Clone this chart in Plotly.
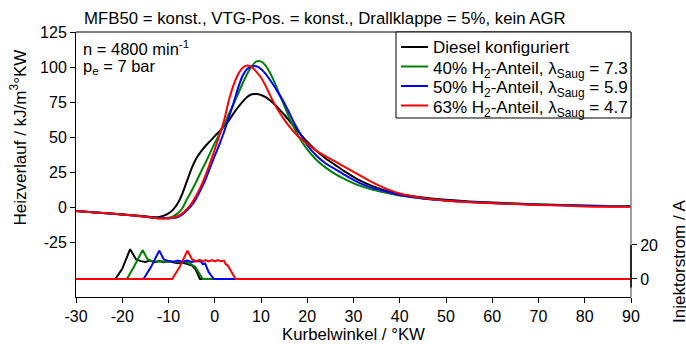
import plotly.graph_objects as go

# Kurbelwinkel-Stützstellen und Heizverläufe (kJ/m³°KW)
kw_diesel = [-30, -25, -20, -15, -13, -12, -11, -10, -9, -8, -7, -6, -5, -4, -3, -2, -1, 0, 1, 2, 3, 4, 5, 6, 7, 8,
             9, 10, 11, 12, 13, 14, 15, 16, 17, 18, 20, 22, 24, 26, 28, 31, 34, 37, 40, 45, 50, 55, 60, 65, 70, 75,
             80, 85, 90]
hv_diesel = [-2.5, -3.7, -5.0, -6.3, -6.9, -6.8, -5.8, -4.2, -1.5, 3, 10, 19, 28, 35, 40, 44, 47.5, 51, 54.5, 58,
             62, 67, 71.5, 75.5, 79, 81, 81.2, 80.5, 79, 76.5, 73.5, 70, 66.5, 62.5, 58.5, 54.5, 47, 40.5, 35, 30.5,
             26, 20, 15.5, 12, 9.5, 7.2, 5.5, 4.3, 3.5, 2.8, 2.2, 1.8, 1.3, 1.1, 1.0]

kw_h2 = [-30, -25, -20, -15, -12, -11, -10, -9, -8, -7, -6, -5, -4, -3, -2, -1, 0, 1, 2, 3, 4, 5, 6, 7, 8, 9, 10,
         11, 12, 13, 14, 15, 16, 17, 18, 20, 22, 24, 26, 28, 31, 34, 37, 40, 45, 50, 55, 60, 65, 70, 75, 80, 85, 90]
hv_h2_40 = [-2.5, -3.7, -5.0, -6.5, -7.5, -7.6, -7.3, -6.3, -4.2, -0.5, 6, 12, 18.5, 25.5, 32, 39, 46, 52.5, 59,
            66.5, 73.5, 81, 88.5, 95.5, 101, 104.5, 104.5, 101.5, 96, 89, 81, 73, 65, 58, 51.5, 41.5, 34, 28.5, 24,
            20.5, 16, 12.8, 10.5, 8.5, 6.5, 5.0, 4.0, 3.2, 2.6, 2.1, 1.7, 1.3, 1.0, 1.0]
hv_h2_50 = [-2.5, -3.7, -5.0, -6.6, -7.6, -7.7, -7.8, -7.6, -6.8, -5.0, -2.0, 1.5, 6.5, 13, 20, 28.5, 37, 45, 54,
            64, 74, 85, 94, 99, 100.8, 101, 99, 95.5, 91, 86, 80.5, 75, 68.5, 61.5, 55.5, 44.5, 37, 31.5, 27.5,
            23.5, 18, 14, 11.5, 9, 6.5, 5.0, 4.0, 3.2, 2.5, 2.0, 1.6, 1.2, 0.8, 0.8]
hv_h2_63 = [-2.5, -3.7, -5.0, -6.6, -7.8, -7.8, -7.7, -7.3, -6.2, -4.2, -1.0, 3, 8.5, 15, 23, 32, 41.5, 51.5, 62,
            76, 87, 95, 99.8, 101.5, 100.5, 97, 93, 87, 80, 73.5, 68, 63, 58.5, 54.5, 51, 45.5, 40.5, 36.5, 33,
            29.2, 23.7, 18.2, 13.5, 10, 6.7, 4.9, 3.8, 3.0, 2.5, 1.8, 1.5, 0.8, 0.6, 0.6]

# Injektorstrom (A)
kw_inj_diesel = [-30, -21.5, -20, -18.3, -17, -16, -15, -14, -13, -12, -11, -10, -9, -8, -7, -6, -5, -4.2, -3.2, 90]
inj_diesel = [0, 0, 6, 17.5, 11.5, 10.5, 10, 10.8, 9.8, 10.6, 9.9, 10.5, 9.8, 9.2, 9.6, 9.0, 8.0, 6.0, 0, 0]

kw_inj_40 = [-30, -19, -17.5, -15.6, -14.5, -13.5, -12.5, -11.5, -10.5, -9.5, -8.5, -7.5, -6.5, -5.3, -4.2, -2.6, 90]
inj_40 = [0, 0, 7, 17, 11.5, 10.5, 10.1, 10.4, 10.0, 10.4, 10.1, 10.3, 10.0, 9.0, 7.0, 0, 0]

kw_inj_50 = [-30, -15.4, -13.8, -12, -11, -10, -9, -8, -7, -6, -5, -4, -3, -2.6, -2.1, -1.3, -0.2, 90]
inj_50 = [0, 0, 7, 16.7, 11.5, 10.5, 10.0, 10.8, 10.0, 10.8, 10.0, 10.6, 10.3, 8.8, 9.2, 4.0, 0, 0]

kw_inj_63 = [-30, -9.2, -7.6, -5.9, -4.9, -4, -3.3, -2.6, -2, -1.3, -0.6, 0, 0.7, 1.3, 2, 2.4, 2.8, 3.4, 4.5, 90]
inj_63 = [0, 0, 7, 16.7, 11.5, 10.5, 11.2, 10.3, 11.1, 10.3, 11.1, 10.4, 11.1, 10.4, 10.8, 8.5, 8.0, 5.0, 0, 0]

serien = [
    ("Diesel konfiguriert", "black", kw_diesel, hv_diesel, kw_inj_diesel, inj_diesel),
    ("40% H<sub>2</sub>-Anteil, λ<sub>Saug</sub> = 7.3", "#008000", kw_h2, hv_h2_40, kw_inj_40, inj_40),
    ("50% H<sub>2</sub>-Anteil, λ<sub>Saug</sub> = 5.9", "#0000ff", kw_h2, hv_h2_50, kw_inj_50, inj_50),
    ("63% H<sub>2</sub>-Anteil, λ<sub>Saug</sub> = 4.7", "#ff0000", kw_h2, hv_h2_63, kw_inj_63, inj_63),
]

x_ticks = list(range(-30, 91, 10))
x_ticktext = [str(v) for v in x_ticks]
y_ticks = [-25, 0, 25, 50, 75, 100, 125]
y_ticktext = [str(v) for v in y_ticks]
y2_ticks = [0, 20]

FONT = "Liberation Sans, Arial, sans-serif"
FS_TICK = 16
FS_TEXT = 17

# Plotbereich in Pixeln (für Legende und Rahmen)
W, H = 686, 344
ML, MR, MT, MB = 76, 55, 32, 47
PW, PH = W - ML - MR, H - MT - MB


def px_x(p):
    return (p - ML) / PW


def px_y(p):
    return (H - MB - p) / PH


fig = go.Figure()
for name, color, kw, hv, kw_i, inj in serien:
    fig.add_trace(go.Scatter(x=kw, y=hv, mode="lines", name=name, showlegend=False,
                             line=dict(color=color, width=2, shape="spline", smoothing=0.6)))
for name, color, kw, hv, kw_i, inj in serien:
    fig.add_trace(go.Scatter(x=kw_i, y=inj, mode="lines", name=name, showlegend=False,
                             yaxis="y2", line=dict(color=color, width=2)))

shapes = [
    dict(type="line", xref="paper", yref="paper", x0=0, x1=1, y0=1, y1=1,
         line=dict(color="black", width=1)),
    dict(type="line", xref="paper", yref="paper", x0=1, x1=1, y0=0, y1=1,
         line=dict(color="#808080", width=1.5)),
    dict(type="line", xref="paper", yref="y2", x0=1, x1=1, y0=-5, y1=20,
         line=dict(color="black", width=1.5)),
    # Legendenrahmen
    dict(type="rect", xref="paper", yref="paper", x0=px_x(396), x1=1, y0=px_y(118), y1=1,
         line=dict(color="black", width=1), fillcolor="white", layer="above"),
]

annotations = [
    dict(text="MFB50 = konst., VTG-Pos. = konst., Drallklappe = 5%, kein AGR",
         xref="paper", yref="paper", x=px_x(82), y=1, xanchor="left", yanchor="bottom",
         yshift=2, showarrow=False, font=dict(size=16.8)),
    dict(text="n = 4800 min<sup>-1</sup>", xref="paper", yref="paper", x=px_x(81), y=px_y(48),
         xanchor="left", yanchor="middle", showarrow=False, font=dict(size=16.5)),
    dict(text="p<sub>e</sub> = 7 bar", xref="paper", yref="paper", x=px_x(81), y=px_y(67),
         xanchor="left", yanchor="middle", showarrow=False, font=dict(size=16.5)),
    dict(text="Heizverlauf / kJ/m<sup>3</sup>°KW", xref="paper", yref="y", x=px_x(18), y=50,
         xanchor="center", yanchor="middle", textangle=-90, showarrow=False),
    dict(text="Injektorstrom / A", xref="paper", yref="y2", x=px_x(680), y=10,
         xanchor="center", yanchor="middle", textangle=-90, showarrow=False),
]

# Legendeneinträge
leg_y = [47, 66.5, 86, 105.5]
for (name, color, *_), py in zip(serien, leg_y):
    shapes.append(dict(type="line", xref="paper", yref="paper", x0=px_x(401), x1=px_x(428),
                       y0=px_y(py), y1=px_y(py), line=dict(color=color, width=2), layer="above"))
    shift = 0 if "sub" not in name else 3
    annotations.append(dict(text=name, xref="paper", yref="paper", x=px_x(431), y=px_y(py),
                            xanchor="left", yanchor="middle", yshift=-shift, showarrow=False))

fig.update_layout(
    width=W, height=H,
    margin=dict(l=ML, r=MR, t=MT, b=MB),
    paper_bgcolor="white", plot_bgcolor="white",
    font=dict(family=FONT, size=FS_TEXT, color="black"),
    showlegend=False,
    xaxis=dict(range=[-30, 90], tickvals=x_ticks, ticktext=x_ticktext, ticks="outside", ticklen=5,
               tickcolor="black", showline=True, linecolor="black", linewidth=1, showgrid=False,
               zeroline=False, automargin=False, tickfont=dict(size=FS_TICK),
               title=dict(text="Kurbelwinkel / °KW", standoff=4, font=dict(size=16.8))),
    yaxis=dict(range=[-64, 125.5], tickvals=y_ticks, ticktext=y_ticktext, ticks="outside", ticklen=5,
               tickcolor="black", showline=True, linecolor="black", linewidth=1, showgrid=False,
               zeroline=False, automargin=False, tickfont=dict(size=FS_TICK)),
    yaxis2=dict(range=[-10.6, 145.3], tickvals=y2_ticks, overlaying="y", side="right",
                ticks="outside", ticklen=5, tickcolor="black", showline=False,
                showgrid=False, zeroline=False, automargin=False, tickfont=dict(size=FS_TICK)),
    shapes=shapes,
    annotations=annotations,
)

fig.write_html("out.html")
